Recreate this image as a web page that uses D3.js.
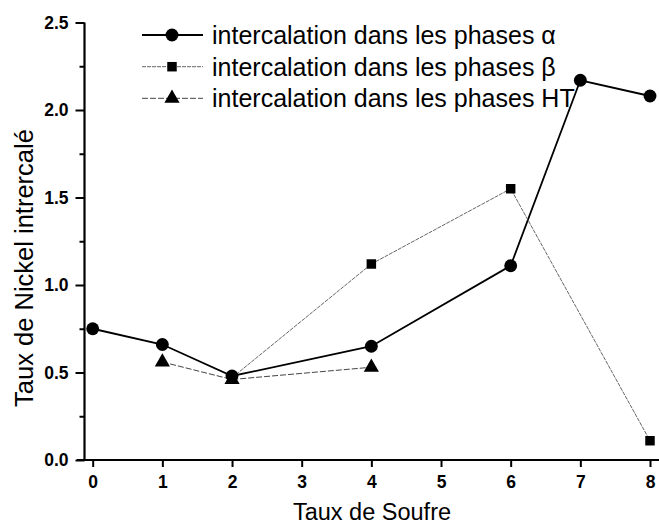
<!DOCTYPE html>
<html>
<head>
<meta charset="utf-8">
<script src="https://cdn.jsdelivr.net/npm/d3@7"></script>
<style>
  html, body { margin: 0; padding: 0; background: #fff; }
  svg { display: block; font-family: "Liberation Sans", Arial, sans-serif; }
</style>
</head>
<body>
<svg id="chart" width="659" height="525"></svg>
<script>
// Sulfur content (x) and intercalated nickel content (y) per phase
const alphaX = [0, 1, 2, 4, 6, 7, 8];
const alphaY = [0.75, 0.66, 0.48, 0.65, 1.11, 2.17, 2.08];
const betaX = [2, 4, 6, 8];
const betaY = [0.47, 1.12, 1.55, 0.11];
const htX = [1, 2, 4];
const htY = [0.56, 0.46, 0.53];

const seriesNames = [
  "intercalation dans les phases α",
  "intercalation dans les phases β",
  "intercalation dans les phases HT"
];
const xTicks = [0, 1, 2, 3, 4, 5, 6, 7, 8];
const yTicks = [0.0, 0.5, 1.0, 1.5, 2.0, 2.5];
const yMinorTicks = [0.25, 0.75, 1.25, 1.75, 2.25];
const xTitle = "Taux de Soufre";
const yTitle = "Taux de Nickel intrercalé";

const svg = d3.select("#chart");
const FONT = '"Liberation Sans", Arial, sans-serif';

const x = d3.scaleLinear().domain([0, 8]).range([92.7, 650]);
const y = d3.scaleLinear().domain([0, 2.5]).range([460, 22.5]);

// axes
const xAxis = d3.axisBottom(x).tickValues(xTicks).tickFormat(d3.format("d")).tickSize(7).tickSizeOuter(0);
const gx = svg.append("g").attr("transform", "translate(0,460)").call(xAxis);
gx.select(".domain").remove();
gx.append("line").attr("x1", 77).attr("x2", 659).attr("y1", 0).attr("y2", 0)
  .attr("stroke", "#000").attr("stroke-width", 2.2);
gx.selectAll(".tick line").attr("stroke-width", 2);
gx.selectAll(".tick text").attr("y", 12).attr("dy", "0.92em")
  .style("font-family", FONT).style("font-size", "17.5px").style("font-weight", "bold").attr("fill", "#000");

const yAxis = d3.axisLeft(y).tickValues(yTicks).tickFormat(d3.format(".1f")).tickSize(9).tickSizeOuter(0);
const gy = svg.append("g").attr("transform", "translate(84.5,0)").call(yAxis);
gy.select(".domain").remove();
gy.append("line").attr("x1", 0).attr("x2", 0).attr("y1", 22.5).attr("y2", 461)
  .attr("stroke", "#000").attr("stroke-width", 2.2);
gy.selectAll(".tick line").attr("stroke-width", 2);
gy.selectAll(".tick text").attr("x", -16)
  .style("font-family", FONT).style("font-size", "17.5px").style("font-weight", "bold").attr("fill", "#000");

const gyMinor = svg.append("g").attr("transform", "translate(84.5,0)")
  .call(d3.axisLeft(y).tickValues(yMinorTicks).tickFormat("").tickSize(5).tickSizeOuter(0));
gyMinor.select(".domain").remove();
gyMinor.selectAll(".tick line").attr("stroke-width", 2);

// axis titles
svg.append("text").attr("x", 372).attr("y", 520).attr("text-anchor", "middle")
  .attr("font-size", 23.5).text(xTitle);
svg.append("text").attr("transform", "translate(33,268) rotate(-90)").attr("text-anchor", "middle")
  .attr("font-size", 25.5).text(yTitle);

// series
const series = [
  { xs: alphaX, ys: alphaY, stroke: "#000", width: 1.8, dash: null, sym: d3.symbolCircle, size: 130 },
  { xs: betaX, ys: betaY, stroke: "#555", width: 0.9, dash: "4,1", sym: d3.symbolSquare, size: 90 },
  { xs: htX, ys: htY, stroke: "#444", width: 1, dash: "6,2", sym: d3.symbolTriangle, size: 100 }
];

const line = d3.line().x(d => x(d[0])).y(d => y(d[1]));

series.forEach(s => {
  const pts = s.xs.map((v, i) => [v, s.ys[i]]);
  svg.append("path").datum(pts).attr("d", line)
    .attr("fill", "none").attr("stroke", s.stroke).attr("stroke-width", s.width)
    .attr("stroke-dasharray", s.dash);
});
series.forEach(s => {
  const pts = s.xs.map((v, i) => [v, s.ys[i]]);
  svg.append("g").selectAll("path").data(pts).join("path")
    .attr("transform", d => `translate(${x(d[0])},${y(d[1])})`)
    .attr("d", d3.symbol().type(s.sym).size(s.size))
    .attr("fill", "#000");
});

// legend
const legendY = [35, 66.7, 98.3];
series.forEach((s, i) => {
  const g = svg.append("g").attr("transform", `translate(0,${legendY[i]})`);
  g.append("line").attr("x1", 142).attr("x2", 203).attr("y1", 0).attr("y2", 0)
    .attr("stroke", s.stroke).attr("stroke-width", s.width).attr("stroke-dasharray", s.dash);
  g.append("path").attr("transform", "translate(172,0)")
    .attr("d", d3.symbol().type(s.sym).size(s.size)).attr("fill", "#000");
  g.append("text").attr("x", 212).attr("y", 9).attr("font-size", 25).text(seriesNames[i]);
});
</script>
</body>
</html>
